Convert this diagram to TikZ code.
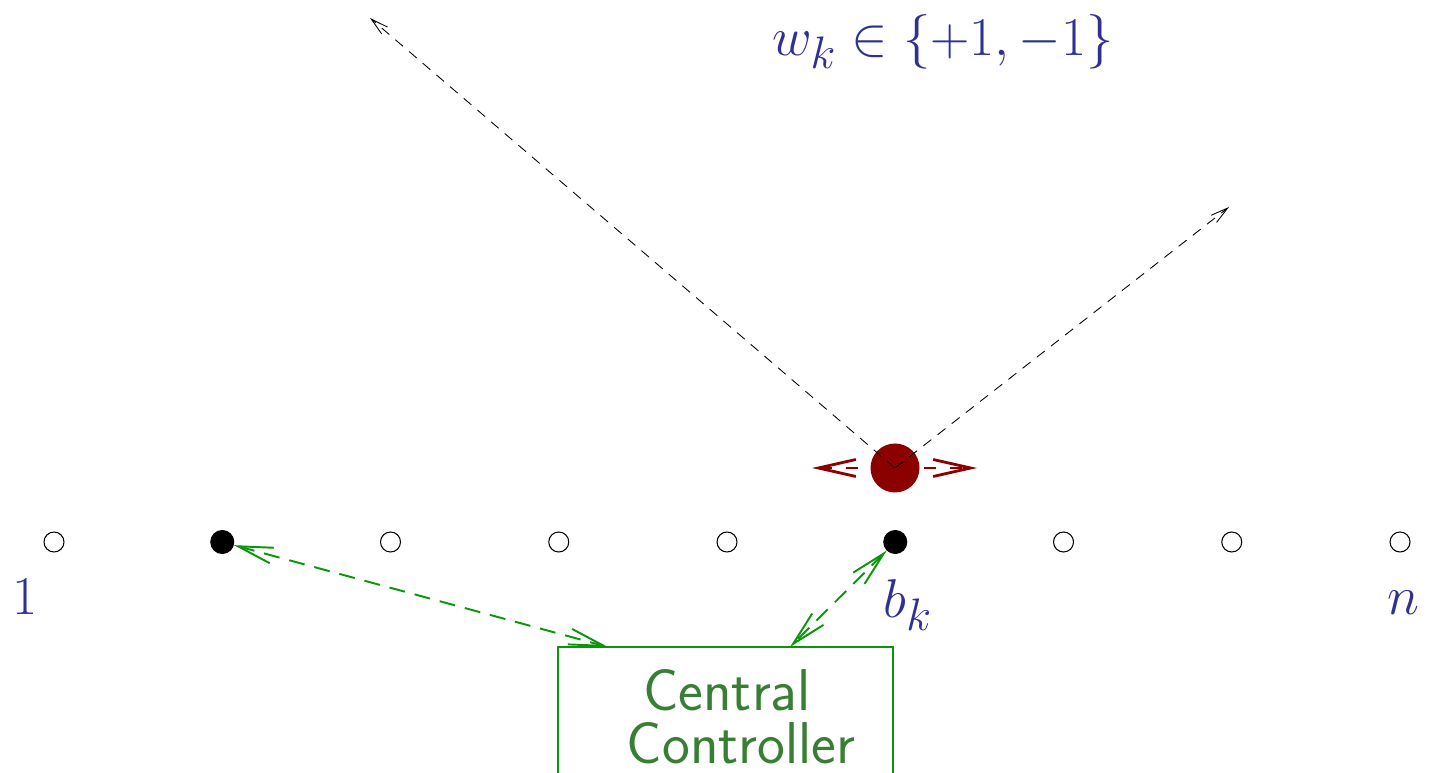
\documentclass[tikz,border=0pt]{standalone}
\usepackage{tikz}
\usetikzlibrary{arrows.meta}
\definecolor{LabelBlue}{RGB}{46,49,146}
\definecolor{LinkGreen}{RGB}{10,150,10}
\definecolor{TextGreen}{RGB}{56,126,52}
\definecolor{BallRed}{RGB}{139,0,0}
\tikzset{
  site/.style={circle, draw, line width=0.6pt, inner sep=0pt, minimum size=0.4cm},
  busy/.style={site, fill=black, minimum size=0.46cm},
  lbl/.style={text=LabelBlue, inner sep=0pt, font=\Huge, scale=1.25},
  ctrltext/.style={text=TextGreen, inner sep=0pt, font=\Huge\sffamily, scale=1.35},
  link/.style={LinkGreen, line width=1.1pt, dash pattern=on 0.32cm off 0.2cm,
    {Straight Barb[length=0.7cm,width=0.32cm]}-{Straight Barb[length=0.7cm,width=0.32cm]}},
  ray/.style={black, line width=0.5pt, dash pattern=on 0.2cm off 0.16cm,
    -{Straight Barb[length=0.35cm,width=0.18cm]}}
}
\begin{document}
\begin{tikzpicture}
          \useasboundingbox (0,0) rectangle (28.58,15.44);
          % row of sites
          \foreach \i/\kind in {1/site,2/busy,3/site,4/site,5/site,6/busy,7/site,8/site,9/site}
            \node[\kind] (s\i) at ({1.08+3.365*(\i-1)},4.6) {};
          \node[lbl] (first) at (0.5,3.5) {$1$};
          \node[lbl] (bk) at (18.16,3.34) {$b_k$};
          \node[lbl] (last) at (28.06,3.38) {$n$};
          % moving ball
          \coordinate (rl) at (16.24,6.08);
          \coordinate (rr) at (19.54,6.08);
          \draw[BallRed, line width=1.6pt, dash pattern=on 0.24cm off 0.28cm,
            {Straight Barb[length=0.75cm,width=0.34cm]}-{Straight Barb[length=0.75cm,width=0.34cm]}] (rl) -- (rr);
          \node[circle, fill=BallRed, minimum size=0.98cm, inner sep=0pt] (ball) at (17.9,6.08) {};
          \coordinate (upl) at (7.4,15.08);
          \coordinate (upr) at (24.58,11.3);
          \draw[ray] (ball.center) -- (upl);
          \draw[ray] (ball.center) -- (upr);
          \node[lbl] (wk) at (18.86,14.6) {$w_k \in \{+1,-1\}$};
          % controller
          \node[draw=LinkGreen, line width=1.1pt, minimum width=6.7cm, minimum height=3cm, inner sep=0pt] (ctrl) at (14.51,1.0) {};
          \node[ctrltext] (cen) at (14.54,1.64) {Central};
          \node[ctrltext] (con) at (14.82,0.58) {Controller};
          \coordinate (ca) at (12.16,2.5);
          \coordinate (cb) at (15.8,2.5);
          \draw[link] (s2) -- (ca);
          \draw[link] (s6) -- (cb);
        \end{tikzpicture}
\end{document}
